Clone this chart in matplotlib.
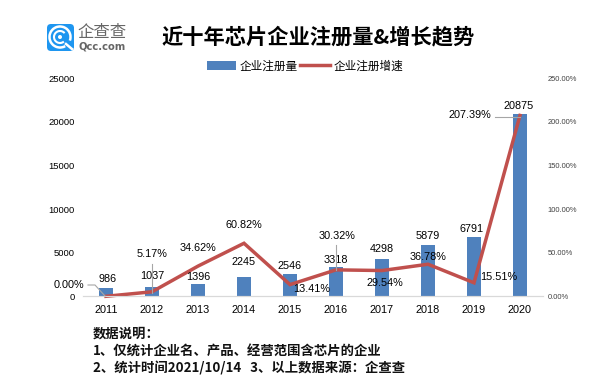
import matplotlib
matplotlib.use('Agg')
import matplotlib.pyplot as plt
from matplotlib.patches import FancyBboxPatch, Arc, Circle
from matplotlib.ticker import FuncFormatter

years = ['2011', '2012', '2013', '2014', '2015', '2016', '2017', '2018', '2019', '2020']
counts = [986, 1037, 1396, 2245, 2546, 3318, 4298, 5879, 6791, 20875]
growth = [0.00, 5.17, 34.62, 60.82, 13.41, 30.32, 29.54, 36.78, 15.51, 207.39]

# label offsets in pixels from the mark
count_off = [(2, 9), (0, 11), (0, 7), (0, 15), (0, 8), (0, 7), (0, 10), (0, 9), (-2, 8), (-1, 8)]
growth_off = [(-37, 11), (0, 38), (0, 18), (0, 18), (22, -4), (1, 34), (3, -12), (0, 7), (25, 6), (-50, 0)]

W, H = 615, 384
CJK = ['Noto Sans CJK SC', 'DejaVu Sans']
plt.rcParams['font.family'] = ['Liberation Sans', 'Noto Sans CJK SC']

fig = plt.figure(figsize=(W / 100, H / 100), dpi=100)
ax = fig.add_axes([83 / W, (H - 296.3) / H, 460 / W, 218 / H])
ax2 = ax.twinx()
xs = list(range(len(years)))

bars = ax.bar(xs, counts, 0.3, color='#4F81BD', label='企业注册量')
ax.set_xlim(-0.5, 9.5)
ax.set_ylim(0, 25000)
ax.set_yticks(range(0, 25001, 5000))
ax.set_xticks(xs)
ax.set_xticklabels(years, fontsize=7.8)
ax.tick_params(axis='x', length=0, pad=6.5)
ax.tick_params(axis='y', length=0, labelsize=6.8, pad=6)

line, = ax2.plot(xs, growth, color='#C0504D', lw=2.5, label='企业注册增速', solid_joinstyle='miter', clip_on=False)
ax2.set_ylim(0, 250)
ax2.set_yticks(range(0, 251, 50))
ax2.yaxis.set_major_formatter(FuncFormatter(lambda v, p: '%.2f%%' % v))
ax2.tick_params(axis='y', length=0, labelsize=5.4, pad=3.5, labelcolor='#404040')

for a in (ax, ax2):
	for s in ['top', 'left', 'right']:
		a.spines[s].set_visible(False)
	a.spines['bottom'].set_color('#D9D9D9')

for i in xs:
	ax2.annotate(str(counts[i]), (i, counts[i] / 100), xytext=count_off[i], textcoords='offset pixels',
		ha='center', va='center', fontsize=7.8, color='black', zorder=5)
	ax2.annotate('%.2f%%' % growth[i], (i, growth[i]), xytext=growth_off[i], textcoords='offset pixels',
		ha='center', va='center', fontsize=7.8, color='black', zorder=5)

fig.legend(handles=[bars, line], loc='center', bbox_to_anchor=(305 / W, 1 - 66 / H), ncol=2, frameon=False,
	prop={'family': CJK, 'size': 8.4}, handlelength=2.5, handletextpad=0.35, columnspacing=0.2, borderpad=0)

# overlay in pixel coordinates for title, notes, leader lines and logo
ov = fig.add_axes([0, 0, 1, 1])
ov.set_xlim(0, W)
ov.set_ylim(H, 0)
ov.axis('off')
ov.patch.set_alpha(0)

ov.text(318.5, 37, '近十年芯片企业注册量&增长趋势', family=CJK, fontsize=15.3, fontweight='bold',
	ha='center', va='center', color='black')

notes = ['数据说明：', '1、仅统计企业名、产品、经营范围含芯片的企业', '2、统计时间2021/10/14   3、以上数据来源：企查查']
for note, y in zip(notes, [334, 351.5, 368.5]):
	ov.text(93, y, note, family=CJK, fontsize=9.6, fontweight='bold', ha='left', va='center', color='#111111')

leaders = [
	([88, 95, 105], [285, 285, 296]),
	([152, 152], [264, 293]),
	([336, 336], [245, 270]),
	([495, 520], [116.5, 116.5]),
]
for lx, ly in leaders:
	ov.plot(lx, ly, color='#A6A6A6', lw=0.8)

# logo
ov.add_patch(FancyBboxPatch((50, 27), 21, 21, boxstyle='round,pad=3,rounding_size=4', fc='#1E96F0', ec='none'))
ov.add_patch(Arc((60, 37), 21, 21, theta1=60, theta2=20, color='white', lw=1.8))
ov.add_patch(Arc((60, 37), 12, 12, theta1=50, theta2=320, color='white', lw=1.5))
ov.add_patch(Circle((60, 37), 2, fc='white', ec='none'))
ov.plot([66, 72], [44, 49], color='white', lw=1.8)
ov.text(102.5, 33, '企查查', family=CJK, fontsize=11.8, ha='center', va='center', color='#666666')
ov.text(102.5, 46.5, 'Qcc.com', family='DejaVu Sans', fontsize=7.2, fontweight='bold', ha='center', va='center', color='#666666')

fig.savefig('out.png', dpi=100)
